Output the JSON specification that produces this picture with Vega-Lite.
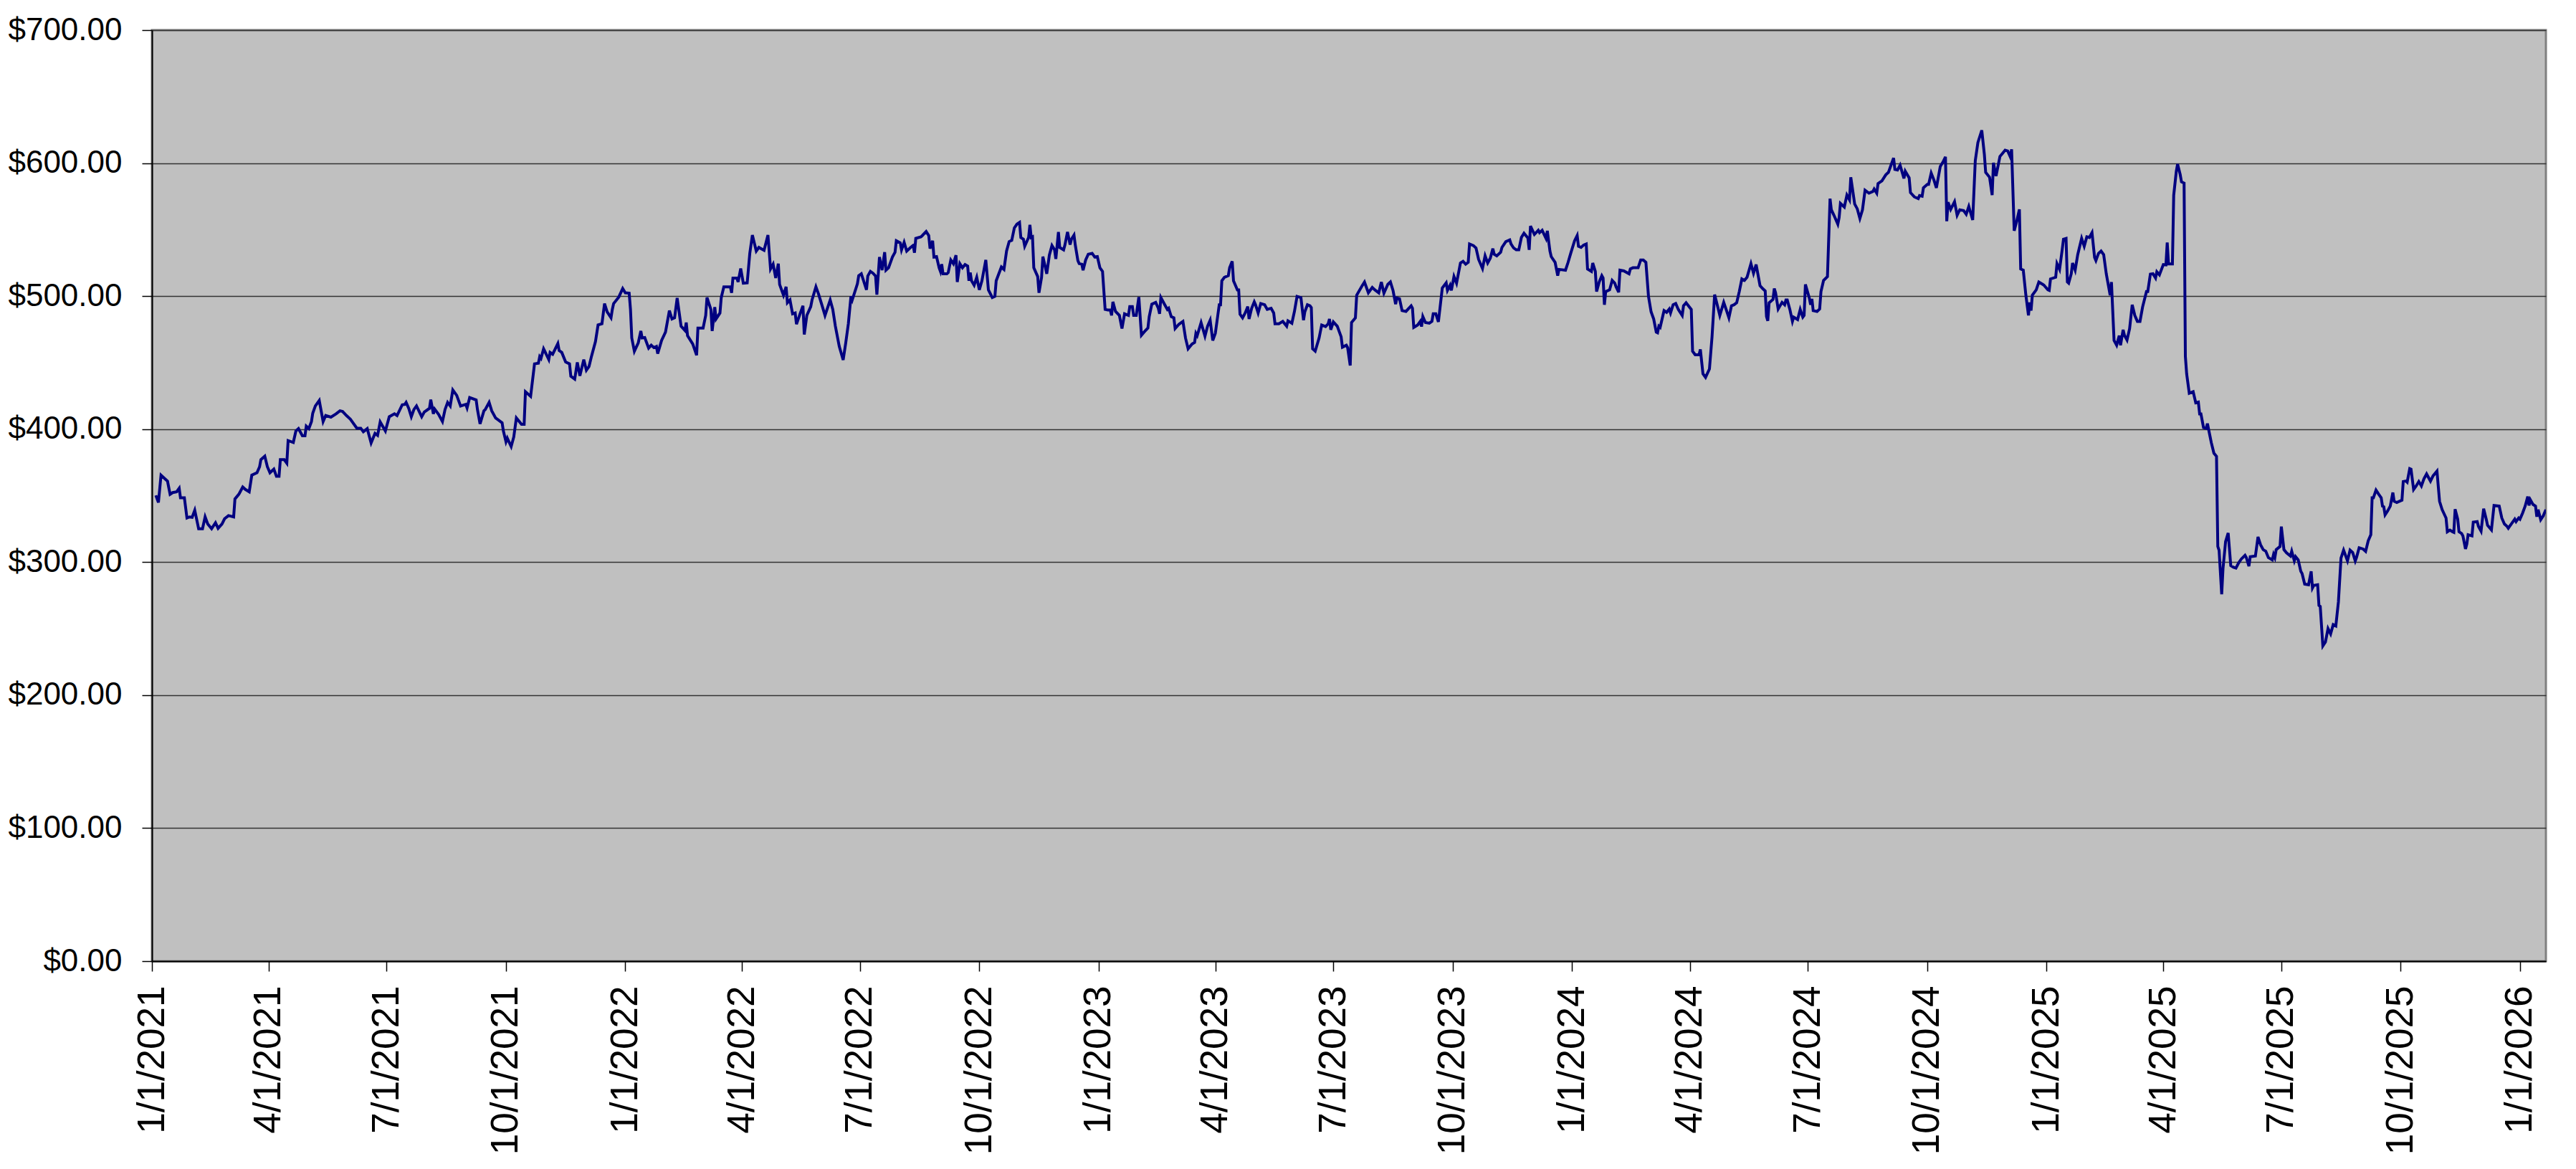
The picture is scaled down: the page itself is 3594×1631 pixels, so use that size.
{
  "$schema": "https://vega.github.io/schema/vega-lite/v6.json",
  "autosize": {"type": "none"},
  "padding": {"left": 212, "top": 42, "right": 42, "bottom": 290},
  "width": 3340,
  "height": 1299,
  "background": "white",
  "config": {
    "font": "Liberation Sans",
    "view": {"fill": "#C0C0C0", "stroke": "#808080", "strokeWidth": 3}
  },
  "data": {
    "values": [
      {"date": "2021-01-04", "price": 350.2}, {"date": "2021-01-06", "price": 344.8}, {"date": "2021-01-08", "price": 365.4}, {"date": "2021-01-11", "price": 362.7},
      {"date": "2021-01-13", "price": 360.9}, {"date": "2021-01-15", "price": 351.0}, {"date": "2021-01-17", "price": 352.3}, {"date": "2021-01-20", "price": 352.9},
      {"date": "2021-01-22", "price": 355.6}, {"date": "2021-01-23", "price": 348.4}, {"date": "2021-01-26", "price": 348.4}, {"date": "2021-01-28", "price": 333.2},
      {"date": "2021-01-30", "price": 334.0}, {"date": "2021-02-01", "price": 333.7}, {"date": "2021-02-03", "price": 339.0}, {"date": "2021-02-06", "price": 325.1},
      {"date": "2021-02-09", "price": 325.1}, {"date": "2021-02-11", "price": 334.0}, {"date": "2021-02-13", "price": 328.7}, {"date": "2021-02-16", "price": 325.1},
      {"date": "2021-02-19", "price": 329.6}, {"date": "2021-02-21", "price": 325.4}, {"date": "2021-02-24", "price": 328.7}, {"date": "2021-02-26", "price": 332.6},
      {"date": "2021-03-01", "price": 335.0}, {"date": "2021-03-05", "price": 334.0}, {"date": "2021-03-06", "price": 347.5}, {"date": "2021-03-09", "price": 351.0},
      {"date": "2021-03-12", "price": 356.5}, {"date": "2021-03-14", "price": 354.7}, {"date": "2021-03-17", "price": 352.9}, {"date": "2021-03-19", "price": 365.4},
      {"date": "2021-03-23", "price": 367.2}, {"date": "2021-03-25", "price": 371.7}, {"date": "2021-03-26", "price": 377.1}, {"date": "2021-03-29", "price": 379.7},
      {"date": "2021-03-31", "price": 371.7}, {"date": "2021-04-02", "price": 367.2}, {"date": "2021-04-05", "price": 369.9}, {"date": "2021-04-07", "price": 364.5},
      {"date": "2021-04-09", "price": 364.5}, {"date": "2021-04-10", "price": 377.1}, {"date": "2021-04-13", "price": 377.1}, {"date": "2021-04-15", "price": 374.4},
      {"date": "2021-04-16", "price": 391.4}, {"date": "2021-04-20", "price": 390.0}, {"date": "2021-04-22", "price": 398.6}, {"date": "2021-04-24", "price": 400.4},
      {"date": "2021-04-27", "price": 395.0}, {"date": "2021-04-29", "price": 395.0}, {"date": "2021-04-30", "price": 402.2}, {"date": "2021-05-02", "price": 400.4},
      {"date": "2021-05-04", "price": 405.7}, {"date": "2021-05-05", "price": 412.0}, {"date": "2021-05-07", "price": 417.4}, {"date": "2021-05-10", "price": 421.5},
      {"date": "2021-05-13", "price": 405.7}, {"date": "2021-05-15", "price": 410.2}, {"date": "2021-05-19", "price": 409.0}, {"date": "2021-05-23", "price": 411.5},
      {"date": "2021-05-26", "price": 413.8}, {"date": "2021-05-28", "price": 413.3}, {"date": "2021-05-31", "price": 410.2}, {"date": "2021-06-03", "price": 407.5},
      {"date": "2021-06-05", "price": 404.8}, {"date": "2021-06-08", "price": 400.7}, {"date": "2021-06-11", "price": 400.7}, {"date": "2021-06-13", "price": 398.0},
      {"date": "2021-06-16", "price": 400.4}, {"date": "2021-06-19", "price": 389.6}, {"date": "2021-06-22", "price": 396.8}, {"date": "2021-06-24", "price": 395.3},
      {"date": "2021-06-26", "price": 405.4}, {"date": "2021-06-30", "price": 398.6}, {"date": "2021-07-03", "price": 409.3}, {"date": "2021-07-07", "price": 411.5},
      {"date": "2021-07-09", "price": 410.2}, {"date": "2021-07-13", "price": 418.3}, {"date": "2021-07-15", "price": 418.6}, {"date": "2021-07-16", "price": 420.1},
      {"date": "2021-07-18", "price": 415.6}, {"date": "2021-07-20", "price": 409.3}, {"date": "2021-07-22", "price": 414.7}, {"date": "2021-07-24", "price": 417.4},
      {"date": "2021-07-28", "price": 409.3}, {"date": "2021-07-30", "price": 412.9}, {"date": "2021-08-03", "price": 415.6}, {"date": "2021-08-04", "price": 422.2},
      {"date": "2021-08-06", "price": 411.5}, {"date": "2021-08-07", "price": 415.1}, {"date": "2021-08-10", "price": 411.1}, {"date": "2021-08-13", "price": 405.7},
      {"date": "2021-08-15", "price": 414.7}, {"date": "2021-08-17", "price": 420.1}, {"date": "2021-08-19", "price": 417.4}, {"date": "2021-08-21", "price": 429.4},
      {"date": "2021-08-24", "price": 425.4}, {"date": "2021-08-27", "price": 417.4}, {"date": "2021-08-31", "price": 418.6}, {"date": "2021-09-01", "price": 415.9},
      {"date": "2021-09-03", "price": 423.7}, {"date": "2021-09-08", "price": 421.9}, {"date": "2021-09-09", "price": 414.7}, {"date": "2021-09-11", "price": 403.9},
      {"date": "2021-09-14", "price": 413.8}, {"date": "2021-09-15", "price": 414.7}, {"date": "2021-09-18", "price": 420.1}, {"date": "2021-09-20", "price": 413.8},
      {"date": "2021-09-23", "price": 408.4}, {"date": "2021-09-28", "price": 404.8}, {"date": "2021-09-29", "price": 398.6}, {"date": "2021-10-01", "price": 390.5},
      {"date": "2021-10-02", "price": 393.2}, {"date": "2021-10-05", "price": 386.9}, {"date": "2021-10-07", "price": 394.1}, {"date": "2021-10-09", "price": 408.4},
      {"date": "2021-10-13", "price": 403.6}, {"date": "2021-10-15", "price": 403.6}, {"date": "2021-10-16", "price": 428.1}, {"date": "2021-10-20", "price": 424.6},
      {"date": "2021-10-23", "price": 449.1}, {"date": "2021-10-26", "price": 449.6}, {"date": "2021-10-27", "price": 454.5}, {"date": "2021-10-28", "price": 453.2},
      {"date": "2021-10-30", "price": 460.4}, {"date": "2021-11-03", "price": 452.3}, {"date": "2021-11-04", "price": 457.7}, {"date": "2021-11-06", "price": 456.3},
      {"date": "2021-11-10", "price": 464.3}, {"date": "2021-11-11", "price": 459.1}, {"date": "2021-11-13", "price": 457.7}, {"date": "2021-11-16", "price": 450.5},
      {"date": "2021-11-19", "price": 449.1}, {"date": "2021-11-20", "price": 439.8}, {"date": "2021-11-23", "price": 437.6}, {"date": "2021-11-25", "price": 450.2},
      {"date": "2021-11-27", "price": 440.1}, {"date": "2021-11-30", "price": 452.3}, {"date": "2021-12-02", "price": 444.3}, {"date": "2021-12-04", "price": 447.0},
      {"date": "2021-12-06", "price": 455.0}, {"date": "2021-12-09", "price": 465.8}, {"date": "2021-12-11", "price": 478.3}, {"date": "2021-12-14", "price": 479.2},
      {"date": "2021-12-16", "price": 494.4}, {"date": "2021-12-18", "price": 488.2}, {"date": "2021-12-21", "price": 483.7}, {"date": "2021-12-22", "price": 490.0},
      {"date": "2021-12-23", "price": 494.4}, {"date": "2021-12-27", "price": 499.3}, {"date": "2021-12-30", "price": 505.7}, {"date": "2022-01-01", "price": 502.5},
      {"date": "2022-01-04", "price": 502.2}, {"date": "2022-01-05", "price": 490.0}, {"date": "2022-01-06", "price": 468.5}, {"date": "2022-01-08", "price": 458.6},
      {"date": "2022-01-11", "price": 464.9}, {"date": "2022-01-13", "price": 473.8}, {"date": "2022-01-14", "price": 468.5}, {"date": "2022-01-16", "price": 468.8},
      {"date": "2022-01-19", "price": 460.9}, {"date": "2022-01-21", "price": 463.1}, {"date": "2022-01-23", "price": 461.3}, {"date": "2022-01-25", "price": 462.2},
      {"date": "2022-01-26", "price": 456.8}, {"date": "2022-01-29", "price": 466.7}, {"date": "2022-02-01", "price": 472.9}, {"date": "2022-02-04", "price": 489.1},
      {"date": "2022-02-06", "price": 482.8}, {"date": "2022-02-08", "price": 483.7}, {"date": "2022-02-10", "price": 498.6}, {"date": "2022-02-13", "price": 477.4},
      {"date": "2022-02-16", "price": 474.2}, {"date": "2022-02-17", "price": 480.1}, {"date": "2022-02-18", "price": 470.3}, {"date": "2022-02-22", "price": 464.0},
      {"date": "2022-02-25", "price": 455.6}, {"date": "2022-02-26", "price": 476.0}, {"date": "2022-03-02", "price": 476.0}, {"date": "2022-03-04", "price": 485.5},
      {"date": "2022-03-05", "price": 498.9}, {"date": "2022-03-08", "price": 490.0}, {"date": "2022-03-09", "price": 473.8}, {"date": "2022-03-11", "price": 491.8},
      {"date": "2022-03-12", "price": 482.8}, {"date": "2022-03-15", "price": 487.3}, {"date": "2022-03-16", "price": 498.9}, {"date": "2022-03-18", "price": 507.0},
      {"date": "2022-03-21", "price": 507.0}, {"date": "2022-03-23", "price": 507.0}, {"date": "2022-03-24", "price": 502.5}, {"date": "2022-03-25", "price": 513.6},
      {"date": "2022-03-28", "price": 513.6}, {"date": "2022-03-29", "price": 510.6}, {"date": "2022-03-31", "price": 520.8}, {"date": "2022-04-02", "price": 509.7},
      {"date": "2022-04-05", "price": 510.0}, {"date": "2022-04-07", "price": 532.1}, {"date": "2022-04-09", "price": 545.9}, {"date": "2022-04-12", "price": 533.9},
      {"date": "2022-04-14", "price": 536.6}, {"date": "2022-04-18", "price": 534.4}, {"date": "2022-04-21", "price": 545.9}, {"date": "2022-04-23", "price": 520.4},
      {"date": "2022-04-25", "price": 524.0}, {"date": "2022-04-27", "price": 513.6}, {"date": "2022-04-29", "price": 524.4}, {"date": "2022-04-30", "price": 508.8},
      {"date": "2022-05-03", "price": 500.7}, {"date": "2022-05-05", "price": 507.0}, {"date": "2022-05-06", "price": 495.0}, {"date": "2022-05-08", "price": 497.1},
      {"date": "2022-05-10", "price": 486.7}, {"date": "2022-05-12", "price": 487.3}, {"date": "2022-05-13", "price": 478.9}, {"date": "2022-05-16", "price": 487.3},
      {"date": "2022-05-18", "price": 492.7}, {"date": "2022-05-19", "price": 471.1}, {"date": "2022-05-21", "price": 485.5}, {"date": "2022-05-24", "price": 492.1},
      {"date": "2022-05-25", "price": 497.1}, {"date": "2022-05-28", "price": 507.0}, {"date": "2022-05-30", "price": 501.6}, {"date": "2022-06-02", "price": 492.1},
      {"date": "2022-06-04", "price": 485.5}, {"date": "2022-06-08", "price": 497.1}, {"date": "2022-06-10", "price": 490.0}, {"date": "2022-06-12", "price": 477.4},
      {"date": "2022-06-15", "price": 462.2}, {"date": "2022-06-18", "price": 452.0}, {"date": "2022-06-20", "price": 464.9}, {"date": "2022-06-22", "price": 479.2},
      {"date": "2022-06-24", "price": 499.8}, {"date": "2022-06-25", "price": 497.1}, {"date": "2022-06-29", "price": 509.3}, {"date": "2022-06-30", "price": 515.4},
      {"date": "2022-07-02", "price": 516.8}, {"date": "2022-07-06", "price": 504.7}, {"date": "2022-07-07", "price": 515.1}, {"date": "2022-07-09", "price": 518.6},
      {"date": "2022-07-11", "price": 517.2}, {"date": "2022-07-13", "price": 515.1}, {"date": "2022-07-14", "price": 501.1}, {"date": "2022-07-16", "price": 529.4},
      {"date": "2022-07-18", "price": 519.5}, {"date": "2022-07-20", "price": 533.0}, {"date": "2022-07-21", "price": 519.5}, {"date": "2022-07-23", "price": 521.3},
      {"date": "2022-07-26", "price": 529.4}, {"date": "2022-07-28", "price": 533.0}, {"date": "2022-07-29", "price": 541.6}, {"date": "2022-08-01", "price": 540.1},
      {"date": "2022-08-02", "price": 534.8}, {"date": "2022-08-04", "price": 540.5}, {"date": "2022-08-06", "price": 533.9}, {"date": "2022-08-09", "price": 536.6},
      {"date": "2022-08-11", "price": 538.1}, {"date": "2022-08-12", "price": 532.6}, {"date": "2022-08-13", "price": 543.4}, {"date": "2022-08-17", "price": 544.6},
      {"date": "2022-08-18", "price": 545.5}, {"date": "2022-08-21", "price": 548.6}, {"date": "2022-08-23", "price": 545.5}, {"date": "2022-08-24", "price": 535.7},
      {"date": "2022-08-26", "price": 541.6}, {"date": "2022-08-27", "price": 529.4}, {"date": "2022-08-29", "price": 529.7}, {"date": "2022-08-31", "price": 521.3},
      {"date": "2022-09-01", "price": 518.6}, {"date": "2022-09-02", "price": 524.0}, {"date": "2022-09-03", "price": 516.8}, {"date": "2022-09-06", "price": 516.8},
      {"date": "2022-09-07", "price": 517.7}, {"date": "2022-09-09", "price": 527.2}, {"date": "2022-09-11", "price": 524.4}, {"date": "2022-09-13", "price": 530.8},
      {"date": "2022-09-14", "price": 510.6}, {"date": "2022-09-16", "price": 524.4}, {"date": "2022-09-18", "price": 521.3}, {"date": "2022-09-20", "price": 523.7},
      {"date": "2022-09-22", "price": 522.6}, {"date": "2022-09-23", "price": 511.5}, {"date": "2022-09-24", "price": 517.7}, {"date": "2022-09-25", "price": 511.5},
      {"date": "2022-09-27", "price": 508.2}, {"date": "2022-09-29", "price": 514.2}, {"date": "2022-10-01", "price": 504.7}, {"date": "2022-10-03", "price": 511.5},
      {"date": "2022-10-06", "price": 527.2}, {"date": "2022-10-08", "price": 504.7}, {"date": "2022-10-11", "price": 498.9}, {"date": "2022-10-13", "price": 499.8},
      {"date": "2022-10-14", "price": 511.5}, {"date": "2022-10-18", "price": 521.9}, {"date": "2022-10-20", "price": 520.1}, {"date": "2022-10-22", "price": 533.9},
      {"date": "2022-10-24", "price": 541.0}, {"date": "2022-10-26", "price": 541.9}, {"date": "2022-10-28", "price": 551.3}, {"date": "2022-10-30", "price": 554.1},
      {"date": "2022-11-01", "price": 555.4}, {"date": "2022-11-02", "price": 544.1}, {"date": "2022-11-04", "price": 542.8}, {"date": "2022-11-05", "price": 537.5},
      {"date": "2022-11-08", "price": 544.1}, {"date": "2022-11-09", "price": 553.6}, {"date": "2022-11-10", "price": 544.1}, {"date": "2022-11-11", "price": 544.6},
      {"date": "2022-11-12", "price": 521.3}, {"date": "2022-11-15", "price": 514.7}, {"date": "2022-11-16", "price": 502.5}, {"date": "2022-11-18", "price": 514.2},
      {"date": "2022-11-19", "price": 529.7}, {"date": "2022-11-21", "price": 521.3}, {"date": "2022-11-22", "price": 516.8}, {"date": "2022-11-24", "price": 530.8},
      {"date": "2022-11-26", "price": 538.0}, {"date": "2022-11-28", "price": 534.8}, {"date": "2022-11-29", "price": 528.0}, {"date": "2022-12-01", "price": 548.2},
      {"date": "2022-12-02", "price": 536.6}, {"date": "2022-12-05", "price": 534.8}, {"date": "2022-12-06", "price": 538.4}, {"date": "2022-12-08", "price": 548.2},
      {"date": "2022-12-10", "price": 538.7}, {"date": "2022-12-11", "price": 542.8}, {"date": "2022-12-13", "price": 545.9}, {"date": "2022-12-14", "price": 538.4},
      {"date": "2022-12-16", "price": 526.7}, {"date": "2022-12-17", "price": 524.4}, {"date": "2022-12-19", "price": 524.0}, {"date": "2022-12-20", "price": 519.5},
      {"date": "2022-12-22", "price": 527.2}, {"date": "2022-12-24", "price": 531.5}, {"date": "2022-12-27", "price": 532.1}, {"date": "2022-12-29", "price": 529.4},
      {"date": "2022-12-31", "price": 529.7}, {"date": "2023-01-02", "price": 521.3}, {"date": "2023-01-04", "price": 518.6}, {"date": "2023-01-06", "price": 490.0},
      {"date": "2023-01-08", "price": 489.6}, {"date": "2023-01-10", "price": 489.6}, {"date": "2023-01-11", "price": 485.5}, {"date": "2023-01-12", "price": 495.7},
      {"date": "2023-01-14", "price": 488.5}, {"date": "2023-01-17", "price": 485.5}, {"date": "2023-01-19", "price": 475.6}, {"date": "2023-01-21", "price": 486.7},
      {"date": "2023-01-24", "price": 485.5}, {"date": "2023-01-25", "price": 492.1}, {"date": "2023-01-27", "price": 492.1}, {"date": "2023-01-28", "price": 485.5},
      {"date": "2023-01-30", "price": 485.5}, {"date": "2023-02-01", "price": 499.3}, {"date": "2023-02-03", "price": 470.6}, {"date": "2023-02-05", "price": 472.9},
      {"date": "2023-02-08", "price": 476.0}, {"date": "2023-02-09", "price": 484.6}, {"date": "2023-02-11", "price": 493.9}, {"date": "2023-02-14", "price": 495.3},
      {"date": "2023-02-16", "price": 490.9}, {"date": "2023-02-17", "price": 486.7}, {"date": "2023-02-18", "price": 498.9}, {"date": "2023-02-21", "price": 493.5},
      {"date": "2023-02-23", "price": 490.0}, {"date": "2023-02-24", "price": 490.9}, {"date": "2023-02-26", "price": 484.6}, {"date": "2023-02-28", "price": 483.7},
      {"date": "2023-03-01", "price": 475.6}, {"date": "2023-03-04", "price": 478.9}, {"date": "2023-03-07", "price": 481.0}, {"date": "2023-03-09", "price": 468.5},
      {"date": "2023-03-11", "price": 460.4}, {"date": "2023-03-14", "price": 464.0}, {"date": "2023-03-16", "price": 465.2}, {"date": "2023-03-17", "price": 472.0},
      {"date": "2023-03-18", "price": 470.3}, {"date": "2023-03-21", "price": 480.1}, {"date": "2023-03-24", "price": 469.9}, {"date": "2023-03-26", "price": 477.4},
      {"date": "2023-03-28", "price": 481.9}, {"date": "2023-03-30", "price": 466.7}, {"date": "2023-04-01", "price": 472.0}, {"date": "2023-04-04", "price": 493.5},
      {"date": "2023-04-05", "price": 493.5}, {"date": "2023-04-06", "price": 511.5}, {"date": "2023-04-08", "price": 514.2}, {"date": "2023-04-11", "price": 515.4},
      {"date": "2023-04-12", "price": 521.3}, {"date": "2023-04-14", "price": 526.2}, {"date": "2023-04-15", "price": 511.5}, {"date": "2023-04-18", "price": 504.7},
      {"date": "2023-04-19", "price": 504.7}, {"date": "2023-04-20", "price": 486.4}, {"date": "2023-04-22", "price": 483.7}, {"date": "2023-04-24", "price": 487.3},
      {"date": "2023-04-26", "price": 492.1}, {"date": "2023-04-27", "price": 482.8}, {"date": "2023-04-29", "price": 490.9}, {"date": "2023-05-01", "price": 495.7},
      {"date": "2023-05-02", "price": 493.5}, {"date": "2023-05-04", "price": 487.3}, {"date": "2023-05-06", "price": 494.4}, {"date": "2023-05-09", "price": 493.5},
      {"date": "2023-05-11", "price": 490.0}, {"date": "2023-05-14", "price": 490.9}, {"date": "2023-05-16", "price": 487.3}, {"date": "2023-05-17", "price": 479.2},
      {"date": "2023-05-20", "price": 479.2}, {"date": "2023-05-23", "price": 481.0}, {"date": "2023-05-26", "price": 477.4}, {"date": "2023-05-27", "price": 481.4},
      {"date": "2023-05-30", "price": 479.6}, {"date": "2023-06-01", "price": 488.5}, {"date": "2023-06-03", "price": 499.8}, {"date": "2023-06-06", "price": 498.9},
      {"date": "2023-06-08", "price": 481.9}, {"date": "2023-06-09", "price": 488.2}, {"date": "2023-06-11", "price": 493.5}, {"date": "2023-06-13", "price": 492.7},
      {"date": "2023-06-14", "price": 491.4}, {"date": "2023-06-15", "price": 460.4}, {"date": "2023-06-17", "price": 458.6}, {"date": "2023-06-20", "price": 468.5},
      {"date": "2023-06-22", "price": 478.3}, {"date": "2023-06-25", "price": 477.1}, {"date": "2023-06-27", "price": 479.2}, {"date": "2023-06-28", "price": 482.8},
      {"date": "2023-06-29", "price": 474.7}, {"date": "2023-07-01", "price": 480.6}, {"date": "2023-07-04", "price": 477.4}, {"date": "2023-07-07", "price": 469.4},
      {"date": "2023-07-08", "price": 461.6}, {"date": "2023-07-11", "price": 463.1}, {"date": "2023-07-12", "price": 461.3}, {"date": "2023-07-14", "price": 447.8},
      {"date": "2023-07-15", "price": 480.1}, {"date": "2023-07-18", "price": 483.7}, {"date": "2023-07-19", "price": 500.7}, {"date": "2023-07-23", "price": 507.5},
      {"date": "2023-07-25", "price": 510.6}, {"date": "2023-07-28", "price": 502.5}, {"date": "2023-07-31", "price": 506.5}, {"date": "2023-08-02", "price": 504.7},
      {"date": "2023-08-05", "price": 502.5}, {"date": "2023-08-07", "price": 510.6}, {"date": "2023-08-09", "price": 502.2}, {"date": "2023-08-12", "price": 508.8},
      {"date": "2023-08-14", "price": 510.6}, {"date": "2023-08-16", "price": 504.3}, {"date": "2023-08-18", "price": 493.9}, {"date": "2023-08-19", "price": 498.6},
      {"date": "2023-08-21", "price": 498.0}, {"date": "2023-08-23", "price": 489.1}, {"date": "2023-08-26", "price": 488.5}, {"date": "2023-08-30", "price": 492.7},
      {"date": "2023-08-31", "price": 490.9}, {"date": "2023-09-01", "price": 476.5}, {"date": "2023-09-04", "price": 478.3}, {"date": "2023-09-06", "price": 481.0},
      {"date": "2023-09-07", "price": 477.1}, {"date": "2023-09-08", "price": 484.6}, {"date": "2023-09-10", "price": 480.1}, {"date": "2023-09-13", "price": 479.6},
      {"date": "2023-09-15", "price": 481.0}, {"date": "2023-09-16", "price": 486.7}, {"date": "2023-09-18", "price": 486.7}, {"date": "2023-09-20", "price": 480.6},
      {"date": "2023-09-23", "price": 506.1}, {"date": "2023-09-26", "price": 510.0}, {"date": "2023-09-27", "price": 504.3}, {"date": "2023-09-29", "price": 508.2},
      {"date": "2023-09-30", "price": 504.3}, {"date": "2023-10-02", "price": 514.7}, {"date": "2023-10-04", "price": 509.7}, {"date": "2023-10-07", "price": 524.9},
      {"date": "2023-10-09", "price": 526.2}, {"date": "2023-10-11", "price": 524.0}, {"date": "2023-10-13", "price": 525.4}, {"date": "2023-10-14", "price": 539.2},
      {"date": "2023-10-17", "price": 538.0}, {"date": "2023-10-19", "price": 536.2}, {"date": "2023-10-21", "price": 527.6}, {"date": "2023-10-24", "price": 520.8},
      {"date": "2023-10-26", "price": 530.3}, {"date": "2023-10-28", "price": 524.9}, {"date": "2023-10-30", "price": 528.5}, {"date": "2023-11-01", "price": 535.7},
      {"date": "2023-11-02", "price": 531.5}, {"date": "2023-11-04", "price": 530.3}, {"date": "2023-11-07", "price": 533.0}, {"date": "2023-11-08", "price": 536.6},
      {"date": "2023-11-11", "price": 541.0}, {"date": "2023-11-14", "price": 542.3}, {"date": "2023-11-15", "price": 539.2}, {"date": "2023-11-17", "price": 536.2},
      {"date": "2023-11-19", "price": 534.8}, {"date": "2023-11-21", "price": 534.8}, {"date": "2023-11-23", "price": 544.1}, {"date": "2023-11-25", "price": 547.3},
      {"date": "2023-11-28", "price": 543.7}, {"date": "2023-11-29", "price": 534.8}, {"date": "2023-11-30", "price": 552.7}, {"date": "2023-12-03", "price": 546.4},
      {"date": "2023-12-06", "price": 549.5}, {"date": "2023-12-07", "price": 547.7}, {"date": "2023-12-09", "price": 549.5}, {"date": "2023-12-12", "price": 543.4},
      {"date": "2023-12-13", "price": 549.1}, {"date": "2023-12-15", "price": 533.9}, {"date": "2023-12-16", "price": 529.7}, {"date": "2023-12-19", "price": 525.4},
      {"date": "2023-12-21", "price": 515.4}, {"date": "2023-12-22", "price": 520.1}, {"date": "2023-12-27", "price": 519.5}, {"date": "2023-12-29", "price": 525.4},
      {"date": "2023-12-31", "price": 532.1}, {"date": "2024-01-03", "price": 541.6}, {"date": "2024-01-05", "price": 545.5}, {"date": "2024-01-06", "price": 537.5},
      {"date": "2024-01-08", "price": 536.6}, {"date": "2024-01-10", "price": 538.4}, {"date": "2024-01-12", "price": 539.2}, {"date": "2024-01-13", "price": 520.4},
      {"date": "2024-01-16", "price": 518.6}, {"date": "2024-01-17", "price": 524.9}, {"date": "2024-01-19", "price": 518.6}, {"date": "2024-01-20", "price": 503.4},
      {"date": "2024-01-22", "price": 510.6}, {"date": "2024-01-24", "price": 515.4}, {"date": "2024-01-25", "price": 513.6}, {"date": "2024-01-26", "price": 493.5},
      {"date": "2024-01-27", "price": 503.4}, {"date": "2024-01-30", "price": 504.7}, {"date": "2024-02-01", "price": 511.8}, {"date": "2024-02-03", "price": 509.7},
      {"date": "2024-02-04", "price": 507.0}, {"date": "2024-02-06", "price": 502.9}, {"date": "2024-02-07", "price": 519.5}, {"date": "2024-02-10", "price": 519.0},
      {"date": "2024-02-14", "price": 516.8}, {"date": "2024-02-15", "price": 520.4}, {"date": "2024-02-17", "price": 521.3}, {"date": "2024-02-21", "price": 521.3},
      {"date": "2024-02-23", "price": 527.2}, {"date": "2024-02-25", "price": 527.2}, {"date": "2024-02-27", "price": 525.4}, {"date": "2024-02-29", "price": 499.8},
      {"date": "2024-03-02", "price": 488.2}, {"date": "2024-03-04", "price": 482.8}, {"date": "2024-03-06", "price": 472.9}, {"date": "2024-03-07", "price": 472.4},
      {"date": "2024-03-08", "price": 477.4}, {"date": "2024-03-09", "price": 476.5}, {"date": "2024-03-12", "price": 489.1}, {"date": "2024-03-14", "price": 487.8},
      {"date": "2024-03-16", "price": 490.3}, {"date": "2024-03-17", "price": 487.3}, {"date": "2024-03-19", "price": 493.5}, {"date": "2024-03-21", "price": 494.4},
      {"date": "2024-03-23", "price": 490.0}, {"date": "2024-03-26", "price": 485.5}, {"date": "2024-03-27", "price": 492.7}, {"date": "2024-03-29", "price": 495.0},
      {"date": "2024-04-02", "price": 490.0}, {"date": "2024-04-03", "price": 458.6}, {"date": "2024-04-05", "price": 455.9}, {"date": "2024-04-08", "price": 455.9},
      {"date": "2024-04-09", "price": 459.9}, {"date": "2024-04-11", "price": 441.6}, {"date": "2024-04-13", "price": 438.9}, {"date": "2024-04-16", "price": 445.2},
      {"date": "2024-04-18", "price": 469.4}, {"date": "2024-04-20", "price": 501.1}, {"date": "2024-04-22", "price": 493.5}, {"date": "2024-04-24", "price": 485.5},
      {"date": "2024-04-27", "price": 495.3}, {"date": "2024-04-29", "price": 489.6}, {"date": "2024-05-01", "price": 483.7}, {"date": "2024-05-03", "price": 492.7},
      {"date": "2024-05-05", "price": 493.5}, {"date": "2024-05-07", "price": 495.0}, {"date": "2024-05-09", "price": 503.4}, {"date": "2024-05-11", "price": 512.9},
      {"date": "2024-05-13", "price": 511.8}, {"date": "2024-05-15", "price": 514.2}, {"date": "2024-05-18", "price": 524.4}, {"date": "2024-05-20", "price": 517.2},
      {"date": "2024-05-22", "price": 523.7}, {"date": "2024-05-25", "price": 507.9}, {"date": "2024-05-27", "price": 505.7}, {"date": "2024-05-29", "price": 503.9},
      {"date": "2024-05-30", "price": 484.6}, {"date": "2024-05-31", "price": 481.4}, {"date": "2024-06-01", "price": 495.0}, {"date": "2024-06-04", "price": 497.5},
      {"date": "2024-06-05", "price": 505.7}, {"date": "2024-06-06", "price": 502.5}, {"date": "2024-06-08", "price": 490.3}, {"date": "2024-06-11", "price": 495.3},
      {"date": "2024-06-13", "price": 493.5}, {"date": "2024-06-14", "price": 497.1}, {"date": "2024-06-15", "price": 497.1}, {"date": "2024-06-17", "price": 490.0},
      {"date": "2024-06-19", "price": 481.0}, {"date": "2024-06-20", "price": 484.2}, {"date": "2024-06-23", "price": 482.4}, {"date": "2024-06-25", "price": 490.0},
      {"date": "2024-06-27", "price": 484.2}, {"date": "2024-06-28", "price": 485.5}, {"date": "2024-06-29", "price": 508.8}, {"date": "2024-07-02", "price": 498.6},
      {"date": "2024-07-03", "price": 493.5}, {"date": "2024-07-04", "price": 498.0}, {"date": "2024-07-05", "price": 489.1}, {"date": "2024-07-08", "price": 488.5},
      {"date": "2024-07-10", "price": 490.3}, {"date": "2024-07-11", "price": 503.4}, {"date": "2024-07-13", "price": 511.8}, {"date": "2024-07-16", "price": 514.7},
      {"date": "2024-07-18", "price": 573.3}, {"date": "2024-07-19", "price": 564.9}, {"date": "2024-07-21", "price": 560.8}, {"date": "2024-07-24", "price": 554.1},
      {"date": "2024-07-25", "price": 559.0}, {"date": "2024-07-26", "price": 569.7}, {"date": "2024-07-29", "price": 567.0}, {"date": "2024-07-31", "price": 576.0},
      {"date": "2024-08-02", "price": 572.4}, {"date": "2024-08-03", "price": 589.4}, {"date": "2024-08-06", "price": 569.2}, {"date": "2024-08-08", "price": 565.6},
      {"date": "2024-08-10", "price": 558.4}, {"date": "2024-08-12", "price": 564.9}, {"date": "2024-08-14", "price": 579.6}, {"date": "2024-08-17", "price": 577.4},
      {"date": "2024-08-20", "price": 578.7}, {"date": "2024-08-21", "price": 580.5}, {"date": "2024-08-23", "price": 577.4}, {"date": "2024-08-24", "price": 584.6},
      {"date": "2024-08-27", "price": 586.7}, {"date": "2024-08-30", "price": 591.2}, {"date": "2024-09-01", "price": 593.0}, {"date": "2024-09-03", "price": 598.4},
      {"date": "2024-09-05", "price": 603.8}, {"date": "2024-09-06", "price": 595.3}, {"date": "2024-09-08", "price": 594.8}, {"date": "2024-09-10", "price": 598.4},
      {"date": "2024-09-13", "price": 588.5}, {"date": "2024-09-14", "price": 593.9}, {"date": "2024-09-17", "price": 588.9}, {"date": "2024-09-18", "price": 577.8},
      {"date": "2024-09-21", "price": 574.6}, {"date": "2024-09-24", "price": 573.3}, {"date": "2024-09-25", "price": 575.6}, {"date": "2024-09-27", "price": 575.1},
      {"date": "2024-09-28", "price": 581.4}, {"date": "2024-10-01", "price": 584.0}, {"date": "2024-10-02", "price": 584.0}, {"date": "2024-10-04", "price": 592.5},
      {"date": "2024-10-06", "price": 587.6}, {"date": "2024-10-08", "price": 581.4}, {"date": "2024-10-11", "price": 597.5}, {"date": "2024-10-13", "price": 600.7},
      {"date": "2024-10-15", "price": 604.7}, {"date": "2024-10-16", "price": 556.3}, {"date": "2024-10-17", "price": 570.6}, {"date": "2024-10-19", "price": 565.2},
      {"date": "2024-10-22", "price": 571.0}, {"date": "2024-10-24", "price": 560.8}, {"date": "2024-10-26", "price": 564.9}, {"date": "2024-10-29", "price": 564.3},
      {"date": "2024-10-31", "price": 561.6}, {"date": "2024-11-02", "price": 567.4}, {"date": "2024-11-05", "price": 557.2}, {"date": "2024-11-07", "price": 602.0},
      {"date": "2024-11-09", "price": 615.4}, {"date": "2024-11-12", "price": 624.7}, {"date": "2024-11-14", "price": 606.5}, {"date": "2024-11-15", "price": 593.0},
      {"date": "2024-11-18", "price": 589.4}, {"date": "2024-11-20", "price": 576.0}, {"date": "2024-11-21", "price": 600.2}, {"date": "2024-11-23", "price": 590.3},
      {"date": "2024-11-26", "price": 605.0}, {"date": "2024-11-28", "price": 607.3}, {"date": "2024-11-30", "price": 609.7}, {"date": "2024-12-02", "price": 609.1},
      {"date": "2024-12-04", "price": 604.7}, {"date": "2024-12-05", "price": 610.4}, {"date": "2024-12-07", "price": 549.1}, {"date": "2024-12-09", "price": 556.6},
      {"date": "2024-12-11", "price": 565.2}, {"date": "2024-12-12", "price": 520.4}, {"date": "2024-12-14", "price": 519.5}, {"date": "2024-12-16", "price": 500.7},
      {"date": "2024-12-18", "price": 485.5}, {"date": "2024-12-19", "price": 495.3}, {"date": "2024-12-20", "price": 489.1}, {"date": "2024-12-21", "price": 500.7},
      {"date": "2024-12-24", "price": 504.7}, {"date": "2024-12-26", "price": 510.6}, {"date": "2024-12-29", "price": 508.8}, {"date": "2024-12-30", "price": 508.2},
      {"date": "2025-01-02", "price": 504.7}, {"date": "2025-01-03", "price": 504.3}, {"date": "2025-01-04", "price": 512.9}, {"date": "2025-01-08", "price": 514.2},
      {"date": "2025-01-09", "price": 524.4}, {"date": "2025-01-11", "price": 520.1}, {"date": "2025-01-13", "price": 534.8}, {"date": "2025-01-14", "price": 542.8},
      {"date": "2025-01-16", "price": 543.4}, {"date": "2025-01-17", "price": 510.6}, {"date": "2025-01-18", "price": 509.7}, {"date": "2025-01-20", "price": 516.8},
      {"date": "2025-01-21", "price": 524.9}, {"date": "2025-01-23", "price": 519.5}, {"date": "2025-01-25", "price": 531.2}, {"date": "2025-01-28", "price": 543.4},
      {"date": "2025-01-30", "price": 537.5}, {"date": "2025-02-01", "price": 544.6}, {"date": "2025-02-03", "price": 544.1}, {"date": "2025-02-05", "price": 547.7},
      {"date": "2025-02-07", "price": 529.0}, {"date": "2025-02-08", "price": 526.7}, {"date": "2025-02-10", "price": 532.1}, {"date": "2025-02-12", "price": 533.9},
      {"date": "2025-02-14", "price": 531.2}, {"date": "2025-02-16", "price": 516.8}, {"date": "2025-02-19", "price": 500.7}, {"date": "2025-02-20", "price": 510.6},
      {"date": "2025-02-22", "price": 466.7}, {"date": "2025-02-24", "price": 463.1}, {"date": "2025-02-26", "price": 470.3}, {"date": "2025-02-27", "price": 463.1},
      {"date": "2025-03-01", "price": 474.7}, {"date": "2025-03-02", "price": 470.6}, {"date": "2025-03-04", "price": 467.0}, {"date": "2025-03-06", "price": 475.6},
      {"date": "2025-03-08", "price": 493.5}, {"date": "2025-03-10", "price": 485.5}, {"date": "2025-03-12", "price": 481.0}, {"date": "2025-03-14", "price": 481.0},
      {"date": "2025-03-16", "price": 491.8}, {"date": "2025-03-19", "price": 503.4}, {"date": "2025-03-20", "price": 503.4}, {"date": "2025-03-22", "price": 516.5},
      {"date": "2025-03-24", "price": 516.8}, {"date": "2025-03-26", "price": 513.6}, {"date": "2025-03-27", "price": 518.3}, {"date": "2025-03-29", "price": 516.0},
      {"date": "2025-04-01", "price": 523.7}, {"date": "2025-04-03", "price": 523.5}, {"date": "2025-04-04", "price": 540.3}, {"date": "2025-04-05", "price": 524.2},
      {"date": "2025-04-08", "price": 524.2}, {"date": "2025-04-09", "price": 575.8}, {"date": "2025-04-11", "price": 593.8}, {"date": "2025-04-12", "price": 599.3},
      {"date": "2025-04-14", "price": 591.4}, {"date": "2025-04-15", "price": 585.9}, {"date": "2025-04-17", "price": 584.9}, {"date": "2025-04-18", "price": 454.6},
      {"date": "2025-04-19", "price": 441.4}, {"date": "2025-04-21", "price": 427.0}, {"date": "2025-04-24", "price": 428.2}, {"date": "2025-04-26", "price": 419.8},
      {"date": "2025-04-28", "price": 420.3}, {"date": "2025-04-29", "price": 411.4}, {"date": "2025-04-30", "price": 411.4}, {"date": "2025-05-02", "price": 401.1},
      {"date": "2025-05-04", "price": 400.6}, {"date": "2025-05-05", "price": 404.2}, {"date": "2025-05-07", "price": 394.6}, {"date": "2025-05-08", "price": 389.8},
      {"date": "2025-05-10", "price": 381.9}, {"date": "2025-05-12", "price": 379.5}, {"date": "2025-05-13", "price": 311.8}, {"date": "2025-05-14", "price": 308.9},
      {"date": "2025-05-16", "price": 275.8}, {"date": "2025-05-17", "price": 295.0}, {"date": "2025-05-19", "price": 315.4}, {"date": "2025-05-21", "price": 321.9},
      {"date": "2025-05-23", "price": 297.4}, {"date": "2025-05-25", "price": 296.2}, {"date": "2025-05-27", "price": 295.5}, {"date": "2025-05-29", "price": 299.3},
      {"date": "2025-05-31", "price": 302.2}, {"date": "2025-06-03", "price": 305.1}, {"date": "2025-06-04", "price": 303.4}, {"date": "2025-06-06", "price": 296.9},
      {"date": "2025-06-07", "price": 304.1}, {"date": "2025-06-11", "price": 304.6}, {"date": "2025-06-13", "price": 319.0}, {"date": "2025-06-15", "price": 313.0},
      {"date": "2025-06-17", "price": 309.4}, {"date": "2025-06-19", "price": 308.2}, {"date": "2025-06-21", "price": 303.4}, {"date": "2025-06-24", "price": 301.7},
      {"date": "2025-06-25", "price": 305.8}, {"date": "2025-06-26", "price": 303.4}, {"date": "2025-06-27", "price": 309.4}, {"date": "2025-06-30", "price": 311.8},
      {"date": "2025-07-01", "price": 326.7}, {"date": "2025-07-03", "price": 309.4}, {"date": "2025-07-05", "price": 307.0}, {"date": "2025-07-08", "price": 304.6},
      {"date": "2025-07-09", "price": 308.2}, {"date": "2025-07-11", "price": 301.0}, {"date": "2025-07-12", "price": 304.1}, {"date": "2025-07-14", "price": 301.7},
      {"date": "2025-07-16", "price": 293.1}, {"date": "2025-07-17", "price": 291.4}, {"date": "2025-07-19", "price": 283.5}, {"date": "2025-07-22", "price": 283.0},
      {"date": "2025-07-24", "price": 293.1}, {"date": "2025-07-25", "price": 280.6}, {"date": "2025-07-26", "price": 282.5}, {"date": "2025-07-29", "price": 283.0},
      {"date": "2025-07-30", "price": 267.4}, {"date": "2025-07-31", "price": 266.7}, {"date": "2025-08-02", "price": 237.0}, {"date": "2025-08-04", "price": 240.0},
      {"date": "2025-08-06", "price": 250.0}, {"date": "2025-08-08", "price": 246.0}, {"date": "2025-08-10", "price": 253.0}, {"date": "2025-08-12", "price": 252.0},
      {"date": "2025-08-14", "price": 270.0}, {"date": "2025-08-16", "price": 303.0}, {"date": "2025-08-18", "price": 309.0}, {"date": "2025-08-21", "price": 301.0},
      {"date": "2025-08-23", "price": 309.0}, {"date": "2025-08-25", "price": 307.2}, {"date": "2025-08-27", "price": 300.9}, {"date": "2025-08-28", "price": 303.6},
      {"date": "2025-08-30", "price": 310.8}, {"date": "2025-09-02", "price": 309.9}, {"date": "2025-09-04", "price": 308.1}, {"date": "2025-09-06", "price": 316.1},
      {"date": "2025-09-08", "price": 320.6}, {"date": "2025-09-09", "price": 348.4}, {"date": "2025-09-10", "price": 348.4}, {"date": "2025-09-12", "price": 354.1},
      {"date": "2025-09-14", "price": 351.1}, {"date": "2025-09-16", "price": 348.4}, {"date": "2025-09-17", "price": 342.1}, {"date": "2025-09-18", "price": 341.6},
      {"date": "2025-09-19", "price": 335.5}, {"date": "2025-09-21", "price": 338.5}, {"date": "2025-09-23", "price": 342.1}, {"date": "2025-09-25", "price": 352.3},
      {"date": "2025-09-26", "price": 345.7}, {"date": "2025-09-28", "price": 344.8}, {"date": "2025-10-02", "price": 346.6}, {"date": "2025-10-03", "price": 360.6},
      {"date": "2025-10-05", "price": 361.0}, {"date": "2025-10-06", "price": 360.1}, {"date": "2025-10-08", "price": 370.3}, {"date": "2025-10-09", "price": 369.9},
      {"date": "2025-10-11", "price": 354.6}, {"date": "2025-10-13", "price": 357.3}, {"date": "2025-10-15", "price": 360.6}, {"date": "2025-10-17", "price": 357.3},
      {"date": "2025-10-19", "price": 362.7}, {"date": "2025-10-21", "price": 366.3}, {"date": "2025-10-24", "price": 360.9}, {"date": "2025-10-26", "price": 364.9},
      {"date": "2025-10-29", "price": 368.4}, {"date": "2025-10-31", "price": 345.7}, {"date": "2025-11-02", "price": 339.5}, {"date": "2025-11-05", "price": 333.2},
      {"date": "2025-11-06", "price": 322.8}, {"date": "2025-11-08", "price": 324.1}, {"date": "2025-11-10", "price": 322.8}, {"date": "2025-11-11", "price": 322.4},
      {"date": "2025-11-12", "price": 339.8}, {"date": "2025-11-14", "price": 332.3}, {"date": "2025-11-15", "price": 322.8}, {"date": "2025-11-17", "price": 321.5},
      {"date": "2025-11-18", "price": 319.7}, {"date": "2025-11-20", "price": 309.9}, {"date": "2025-11-21", "price": 313.4}, {"date": "2025-11-22", "price": 320.6},
      {"date": "2025-11-25", "price": 319.7}, {"date": "2025-11-26", "price": 330.1}, {"date": "2025-11-29", "price": 330.5}, {"date": "2025-11-30", "price": 326.8},
      {"date": "2025-12-02", "price": 323.3}, {"date": "2025-12-04", "price": 340.2}, {"date": "2025-12-06", "price": 332.3}, {"date": "2025-12-07", "price": 327.7},
      {"date": "2025-12-10", "price": 324.2}, {"date": "2025-12-12", "price": 342.6}, {"date": "2025-12-16", "price": 342.1}, {"date": "2025-12-18", "price": 333.2},
      {"date": "2025-12-20", "price": 328.7}, {"date": "2025-12-22", "price": 326.9}, {"date": "2025-12-23", "price": 325.5}, {"date": "2025-12-26", "price": 329.6},
      {"date": "2025-12-28", "price": 332.3}, {"date": "2025-12-29", "price": 330.5}, {"date": "2025-12-31", "price": 333.2}, {"date": "2026-01-01", "price": 332.3},
      {"date": "2026-01-03", "price": 336.8}, {"date": "2026-01-05", "price": 342.1}, {"date": "2026-01-07", "price": 349.3}, {"date": "2026-01-08", "price": 342.6},
      {"date": "2026-01-09", "price": 346.9}, {"date": "2026-01-11", "price": 343.4}, {"date": "2026-01-13", "price": 342.1}, {"date": "2026-01-14", "price": 334.1},
      {"date": "2026-01-15", "price": 339.5}, {"date": "2026-01-17", "price": 331.9}, {"date": "2026-01-19", "price": 334.9}, {"date": "2026-01-21", "price": 339.5}
    ]
  },
  "mark": {"type": "line", "color": "#000080", "strokeWidth": 4, "clip": true},
  "encoding": {
    "x": {
      "field": "date",
      "type": "temporal",
      "scale": {"type": "utc", "domain": [1609459200000, 1768953600000]},
      "axis": {
        "title": null,
        "grid": false,
        "values": [
          {"year": 2021, "month": 1, "date": 1, "utc": true}, {"year": 2021, "month": 4, "date": 1, "utc": true},
          {"year": 2021, "month": 7, "date": 1, "utc": true}, {"year": 2021, "month": 10, "date": 1, "utc": true},
          {"year": 2022, "month": 1, "date": 1, "utc": true}, {"year": 2022, "month": 4, "date": 1, "utc": true},
          {"year": 2022, "month": 7, "date": 1, "utc": true}, {"year": 2022, "month": 10, "date": 1, "utc": true},
          {"year": 2023, "month": 1, "date": 1, "utc": true}, {"year": 2023, "month": 4, "date": 1, "utc": true},
          {"year": 2023, "month": 7, "date": 1, "utc": true}, {"year": 2023, "month": 10, "date": 1, "utc": true},
          {"year": 2024, "month": 1, "date": 1, "utc": true}, {"year": 2024, "month": 4, "date": 1, "utc": true},
          {"year": 2024, "month": 7, "date": 1, "utc": true}, {"year": 2024, "month": 10, "date": 1, "utc": true},
          {"year": 2025, "month": 1, "date": 1, "utc": true}, {"year": 2025, "month": 4, "date": 1, "utc": true},
          {"year": 2025, "month": 7, "date": 1, "utc": true}, {"year": 2025, "month": 10, "date": 1, "utc": true},
          {"year": 2026, "month": 1, "date": 1, "utc": true}
        ],
        "format": "%-m/%-d/%Y",
        "labelAngle": -90,
        "labelFontSize": 53,
        "labelFont": "Liberation Sans",
        "labelColor": "#000000",
        "labelPadding": 20,
        "labelLimit": 0,
        "labelFlush": false,
        "labelOverlap": false,
        "tickSize": 14,
        "tickColor": "#000000",
        "tickWidth": 1.5,
        "domainColor": "#000000",
        "domainWidth": 2
      }
    },
    "y": {
      "field": "price",
      "type": "quantitative",
      "scale": {"domain": [0, 700], "nice": false},
      "axis": {
        "title": null,
        "values": [0, 100, 200, 300, 400, 500, 600, 700],
        "format": "$,.2f",
        "grid": true,
        "gridColor": "#333333",
        "gridWidth": 1.5,
        "gridOpacity": 1,
        "labelFontSize": 44,
        "labelFont": "Liberation Sans",
        "labelColor": "#000000",
        "labelPadding": 28,
        "labelOverlap": false,
        "labelLimit": 0,
        "tickSize": 14,
        "tickColor": "#000000",
        "tickWidth": 1.5,
        "domainColor": "#000000",
        "domainWidth": 2
      }
    }
  }
}
